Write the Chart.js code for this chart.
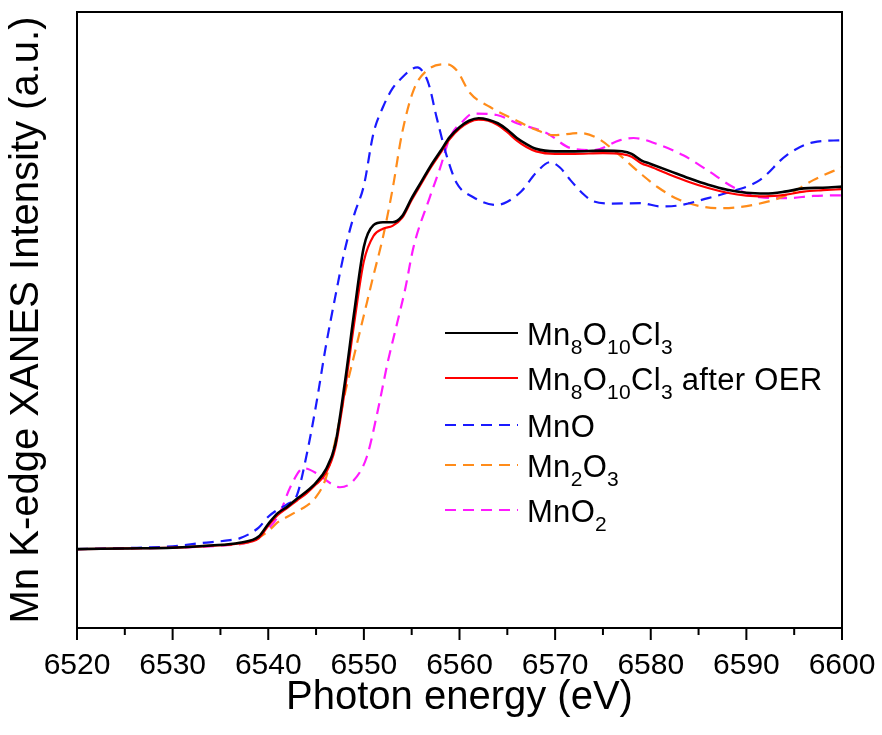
<!DOCTYPE html>
<html>
<head>
<meta charset="utf-8">
<script src="https://cdn.jsdelivr.net/npm/chart.js@4.4.1/dist/chart.umd.min.js"></script>
<style>
  html, body { margin: 0; padding: 0; background: #fff; }
  #wrap { position: relative; width: 882px; height: 735px; font-family: "Liberation Sans", Arial, sans-serif; }
  #legend { position: absolute; left: 0; top: 0; width: 882px; height: 735px; pointer-events: none; }
  .lg-row { position: absolute; left: 445px; height: 31px; line-height: 31px; font-size: 31px; color: #000; white-space: nowrap; }
  .lg-row svg { position: absolute; left: 0; }
  .lg-row .txt { position: absolute; left: 82px; top: 0; letter-spacing: 0.3px; }
  .lg-row sub { font-size: 21px; line-height: 0; vertical-align: baseline; position: relative; top: 9px; }
</style>
</head>
<body>
<div id="wrap">
  <canvas id="xanes"></canvas>
  <div id="legend"></div>
</div>
<script>
/* ==========================================
   DATA
   ========================================== */
const X_MIN = 6520, X_MAX = 6600;
const Y_MIN = -0.219, Y_MAX = 1.492;
const xTicks = [6520, 6530, 6540, 6550, 6560, 6570, 6580, 6590, 6600];

// Mn8O10Cl3 (black) and after OER (red)
const sampleE = [6520, 6525, 6530, 6534, 6537, 6539, 6540, 6541, 6542, 6543, 6544, 6545, 6546, 6547, 6548,
  6549, 6550, 6551, 6552, 6553, 6554, 6555, 6556, 6557, 6558, 6559, 6560, 6561, 6562, 6563, 6564, 6565,
  6566, 6567, 6568, 6570, 6572, 6575, 6577, 6578, 6579, 6580, 6582, 6584, 6586, 6588, 6590, 6592, 6594,
  6596, 6598, 6600];
const pristineI = [0, 0.002, 0.004, 0.01, 0.018, 0.035, 0.07, 0.10, 0.118, 0.14, 0.16, 0.185, 0.22, 0.29, 0.46,
  0.66, 0.84, 0.90, 0.908, 0.908, 0.925, 0.975, 1.02, 1.065, 1.105, 1.145, 1.172, 1.19, 1.197, 1.193, 1.183, 1.165,
  1.142, 1.125, 1.112, 1.105, 1.105, 1.107, 1.105, 1.098, 1.08, 1.07, 1.05, 1.03, 1.012, 0.998, 0.99, 0.988, 0.993,
  1.002, 1.004, 1.007];
const afterOerI = [0, 0.002, 0.004, 0.009, 0.016, 0.03, 0.065, 0.095, 0.115, 0.135, 0.155, 0.18, 0.21, 0.28, 0.44,
  0.63, 0.80, 0.87, 0.89, 0.898, 0.92, 0.97, 1.015, 1.06, 1.10, 1.14, 1.168, 1.186, 1.193, 1.19, 1.178, 1.158,
  1.135, 1.117, 1.105, 1.098, 1.098, 1.10, 1.097, 1.09, 1.072, 1.062, 1.04, 1.02, 1.003, 0.99, 0.982, 0.98, 0.984,
  0.993, 0.997, 1.0];

// MnO (blue)
const mnoE = [6520, 6525, 6530, 6533, 6536, 6537, 6539, 6540, 6541, 6542, 6543, 6544, 6545, 6546, 6547, 6548,
  6549, 6550, 6551, 6552, 6553, 6554, 6555, 6555.6, 6556.2, 6556.8, 6557.6, 6558.7, 6559.7, 6561.4, 6563.9,
  6565, 6566.5, 6568, 6569.5, 6570.5, 6571.6, 6573, 6574, 6576, 6579, 6581, 6583, 6586, 6588, 6591.4, 6594.2,
  6597, 6600];
const mnoI = [0, 0.003, 0.008, 0.017, 0.025, 0.03, 0.06, 0.09, 0.11, 0.125, 0.15, 0.26, 0.40, 0.56, 0.70, 0.83,
  0.93, 1.01, 1.155, 1.228, 1.28, 1.31, 1.333, 1.338, 1.325, 1.29, 1.2, 1.089, 1.017, 0.978, 0.956,
  0.965, 0.995, 1.045, 1.075, 1.06, 1.025, 0.985, 0.966, 0.96, 0.961, 0.952, 0.955, 0.975, 0.99, 1.025, 1.094,
  1.13, 1.136];

// Mn2O3 (orange)
const mn2o3E = [6520, 6525, 6530, 6535, 6538, 6540, 6541, 6542, 6543, 6544, 6545, 6546, 6547, 6548, 6549, 6550,
  6551, 6552, 6553, 6554, 6555.2, 6556.6, 6558.7, 6559.7, 6561.1, 6563.2, 6566, 6568, 6569.8, 6572.6, 6574.4,
  6576.5, 6578.9, 6580.7, 6583.1, 6587.2, 6590.7, 6594.2, 6597, 6600];
const mn2o3I = [0, 0.002, 0.005, 0.012, 0.02, 0.05, 0.075, 0.09, 0.105, 0.12, 0.145, 0.195, 0.30, 0.43, 0.54, 0.65,
  0.76, 0.867, 1.0, 1.156, 1.275, 1.33, 1.347, 1.33, 1.267, 1.228, 1.19, 1.165, 1.15, 1.156, 1.142,
  1.10, 1.044, 1.006, 0.969, 0.947, 0.956, 0.983, 1.025, 1.061];

// MnO2 (magenta)
const mno2E = [6520, 6525, 6530, 6535, 6538, 6539.9, 6541.2, 6542.3, 6543.7, 6545.1, 6546.5, 6547.5, 6548.9,
  6550.3, 6551.4, 6552.5, 6553.5, 6554.3, 6555.2, 6556.9, 6558, 6559, 6560.4, 6561.4, 6563.9, 6566, 6569.1,
  6571.6, 6574, 6576.8, 6578.2, 6581, 6583.4, 6585.9, 6588.6, 6591.4, 6594.2, 6597, 6600];
const mno2I = [0, 0.002, 0.004, 0.01, 0.02, 0.053, 0.10, 0.172, 0.225, 0.21, 0.183, 0.172, 0.19,
  0.256, 0.378, 0.52, 0.63, 0.72, 0.84, 0.978, 1.061, 1.144, 1.19, 1.21, 1.206, 1.183, 1.156,
  1.114, 1.108, 1.136, 1.142, 1.122, 1.094, 1.053, 1.006, 0.978, 0.975, 0.981, 0.983];

/* ==========================================
   SERIES
   ========================================== */
const FONT = '"Liberation Sans", Arial, sans-serif';
const DASH = [11, 7];

const SERIES = [
  { name: 'Mn<sub>8</sub>O<sub>10</sub>Cl<sub>3</sub>',           E: sampleE, I: pristineI, color: '#000000', width: 2.6, dash: [] },
  { name: 'Mn<sub>8</sub>O<sub>10</sub>Cl<sub>3</sub> after OER', E: sampleE, I: afterOerI, color: '#ff0000', width: 2.2, dash: [] },
  { name: 'MnO',                                                  E: mnoE,    I: mnoI,      color: '#1a1aff', width: 2.2, dash: DASH },
  { name: 'Mn<sub>2</sub>O<sub>3</sub>',                          E: mn2o3E,  I: mn2o3I,    color: '#ff8c1a', width: 2.2, dash: DASH },
  { name: 'MnO<sub>2</sub>',                                      E: mno2E,   I: mno2I,     color: '#ff1aff', width: 2.2, dash: DASH }
];

const toPoints = (E, I) => E.map((e, i) => ({ x: e, y: I[i] }));

/* ==========================================
   PLUGINS
   ========================================== */
// box frame + outward ticks (major every 10 eV, minor at 5)
const framePlugin = {
  id: 'frame',
  afterDraw(chart) {
    const { ctx, chartArea: a, scales: { x } } = chart;
    ctx.save();
    ctx.strokeStyle = '#000';
    ctx.lineWidth = 2;
    ctx.strokeRect(a.left, a.top, a.right - a.left, a.bottom - a.top);
    ctx.beginPath();
    xTicks.forEach((v, i) => {
      const px = x.getPixelForValue(v);
      ctx.moveTo(px, a.bottom);
      ctx.lineTo(px, a.bottom + 12);
      if (i < xTicks.length - 1) {
        const pm = x.getPixelForValue(v + 5);
        ctx.moveTo(pm, a.bottom);
        ctx.lineTo(pm, a.bottom + 7);
      }
    });
    ctx.stroke();
    ctx.restore();
  }
};

/* ==========================================
   CHART
   ========================================== */
const canvas = document.getElementById('xanes');
canvas.width = 882; canvas.height = 735;

new Chart(canvas.getContext('2d'), {
  type: 'line',
  data: {
    datasets: SERIES.map(s => ({
      label: s.name.replace(/<\/?sub>/g, ''),
      data: toPoints(s.E, s.I),
      borderColor: s.color,
      borderWidth: s.width,
      borderDash: s.dash,
      pointRadius: 0,
      fill: false,
      cubicInterpolationMode: 'monotone'
    }))
  },
  options: {
    responsive: false,
    animation: false,
    layout: { padding: { top: 12, right: 40, left: 0, bottom: 0 } },
    plugins: { legend: { display: false }, tooltip: { enabled: false } },
    scales: {
      x: {
        type: 'linear',
        min: X_MIN, max: X_MAX,
        afterFit: s => { s.height = 107; s.paddingLeft = 0; s.paddingRight = 0; },
        afterBuildTicks: s => { s.ticks = xTicks.map(v => ({ value: v })); },
        grid: { display: false, drawTicks: false },
        border: { display: false },
        ticks: { color: '#000', font: { family: FONT, size: 30 }, padding: 20, maxRotation: 0, autoSkip: false,
                 callback: v => String(v) },
        title: { display: true, text: 'Photon energy (eV)', color: '#000',
                 font: { family: FONT, size: 40 }, padding: { top: 0, bottom: 13 } }
      },
      y: {
        min: Y_MIN, max: Y_MAX,
        afterFit: s => { s.width = 77; },
        grid: { display: false, drawTicks: false },
        border: { display: false },
        ticks: { display: false },
        title: { display: true, text: 'Mn K-edge XANES Intensity (a.u.)', color: '#000',
                 font: { family: FONT, size: 40 }, padding: { top: 3, bottom: 0 } }
      }
    }
  },
  plugins: [framePlugin]
});

/* ==========================================
   LEGEND (HTML so subscripts stay real text)
   ========================================== */
const LEGEND_Y = [333, 378, 425, 465, 510];   // centre of each sample line
const legend = document.getElementById('legend');
SERIES.forEach((s, i) => {
  const row = document.createElement('div');
  row.className = 'lg-row';
  row.style.top = (LEGEND_Y[i] - 14) + 'px';
  const dash = s.dash.length ? `stroke-dasharray="${s.dash.join(' ')}"` : '';
  row.innerHTML =
    `<svg width="74" height="31"><line x1="0" y1="14" x2="73" y2="14" stroke="${s.color}" stroke-width="2" ${dash}/></svg>` +
    `<span class="txt">${s.name}</span>`;
  legend.appendChild(row);
});
</script>
</body>
</html>
